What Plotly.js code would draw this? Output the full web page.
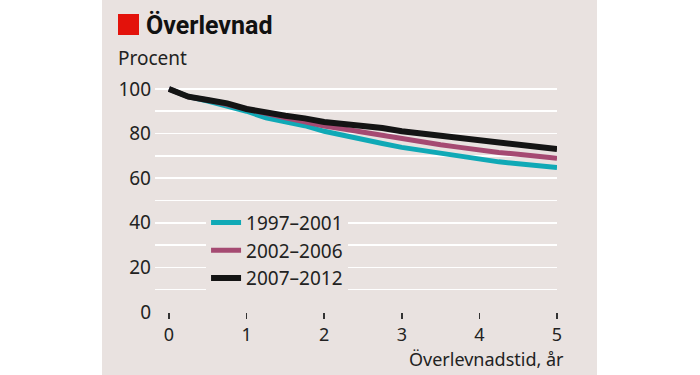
<!DOCTYPE html>
<html>
<head>
<meta charset="utf-8">
<script src="https://cdn.plot.ly/plotly-3.0.1.min.js"></script>
<style>html,body{margin:0;padding:0;background:#fff;}#chart{width:700px;height:375px;}</style>
</head>
<body>
<div id="chart"></div>
<script>
const years = [0,0.25,0.5,0.75,1,1.25,1.5,1.75,2,2.25,2.5,2.75,3,3.25,3.5,3.75,4,4.25,4.5,4.75,5];
const s1997 = [100,96.5,94.5,92.5,90,87,85.5,83.5,81,79,77,75.5,73.8,72.5,71.5,70,68.5,67.3,66.5,65.7,64.8];
const s2002 = [100,96.5,95,93,91,88.5,87,85.3,83.3,82,80.5,79,77.5,76,75,73.8,72.5,71.5,70.7,69.8,68.9];
const s2007 = [100,96.5,95,93.5,91,89.2,88,86.8,85.2,84.3,83.5,82.5,81,80,79.2,78,76.8,76,75.2,74.2,73];
const seriesNames = ["1997–2001","2002–2006","2007–2012"];
const xTicks = [0,1,2,3,4,5];
const yTicks = [0,20,40,60,80,100];

const BG = "#e9e2e0";
const FONT = "Noto Sans, Open Sans, sans-serif";
const colors = ["#10a9b6","#a54a72","#141414"];
const widths = [5,5,6];
const data = [s1997, s2002, s2007].map((ys,i)=>({
  x: years, y: ys, type: "scatter", mode: "lines", name: seriesNames[i],
  line: {color: colors[i], width: widths[i], shape: "linear"}, cliponaxis: false
}));

const layout = {
  width: 700, height: 375,
  margin: {l:155, r:143, t:84, b:63},
  paper_bgcolor: "#ffffff",
  plot_bgcolor: "rgba(0,0,0,0)",
  font: {family: FONT, size: 19, color: "#222"},
  showlegend: true,
  legend: {x: 0.127, y: 0.475, xanchor: "left", yanchor: "top", bgcolor: BG, borderwidth: 0,
           font: {family: FONT, size: 19, color: "#222"}, itemwidth: 30, tracegroupgap: 0},
  xaxis: {range: [-0.18, 5], tickvals: xTicks, showgrid: false, zeroline: false, showline: false,
          ticks: "outside", ticklen: 6, tickwidth: 1.5, tickcolor: "#333", fixedrange: true,
          tickfont: {family: FONT, size: 18, color: "#222"}},
  yaxis: {range: [0, 102.2], tickvals: yTicks, showgrid: true, gridcolor: "#ffffff", gridwidth: 1.5,
          minor: {tickvals: [10,30,50,70,90], showgrid: true, gridcolor: "#ffffff", gridwidth: 1.5},
          zeroline: false, showline: false, ticks: "", ticklabelstandoff: 3, fixedrange: true},
  shapes: [
    {type: "rect", xref: "paper", yref: "paper", x0: -0.1318, x1: 1.0995, y0: -0.276, y1: 1.368,
     fillcolor: BG, line: {width: 0}, layer: "below"},
    {type: "rect", xref: "paper", yref: "paper", x0: (118-155)/402, x1: (139-155)/402,
     y0: (312-35)/228, y1: (312-14)/228, fillcolor: "#e3120b", line: {width: 0}, layer: "above"}
  ],
  annotations: [
    {text: "<b>Överlevnad</b>", xref: "paper", yref: "paper", x: (144-155)/402, y: (312-25)/228,
     xanchor: "left", yanchor: "middle", showarrow: false, font: {family: "Roboto, sans-serif", size: 25, color: "#111"}},
    {text: "Procent", xref: "paper", yref: "paper", x: (116-155)/402, y: (312-58)/228,
     xanchor: "left", yanchor: "middle", showarrow: false, font: {family: FONT, size: 19, color: "#222"}},
    {text: "Överlevnadstid, år", xref: "paper", yref: "paper", x: (566-155)/402, y: (312-359)/228,
     xanchor: "right", yanchor: "middle", showarrow: false, font: {family: FONT, size: 18, color: "#222"}}
  ]
};
Plotly.newPlot("chart", data, layout, {displayModeBar: false, staticPlot: true});
</script>
</body>
</html>
